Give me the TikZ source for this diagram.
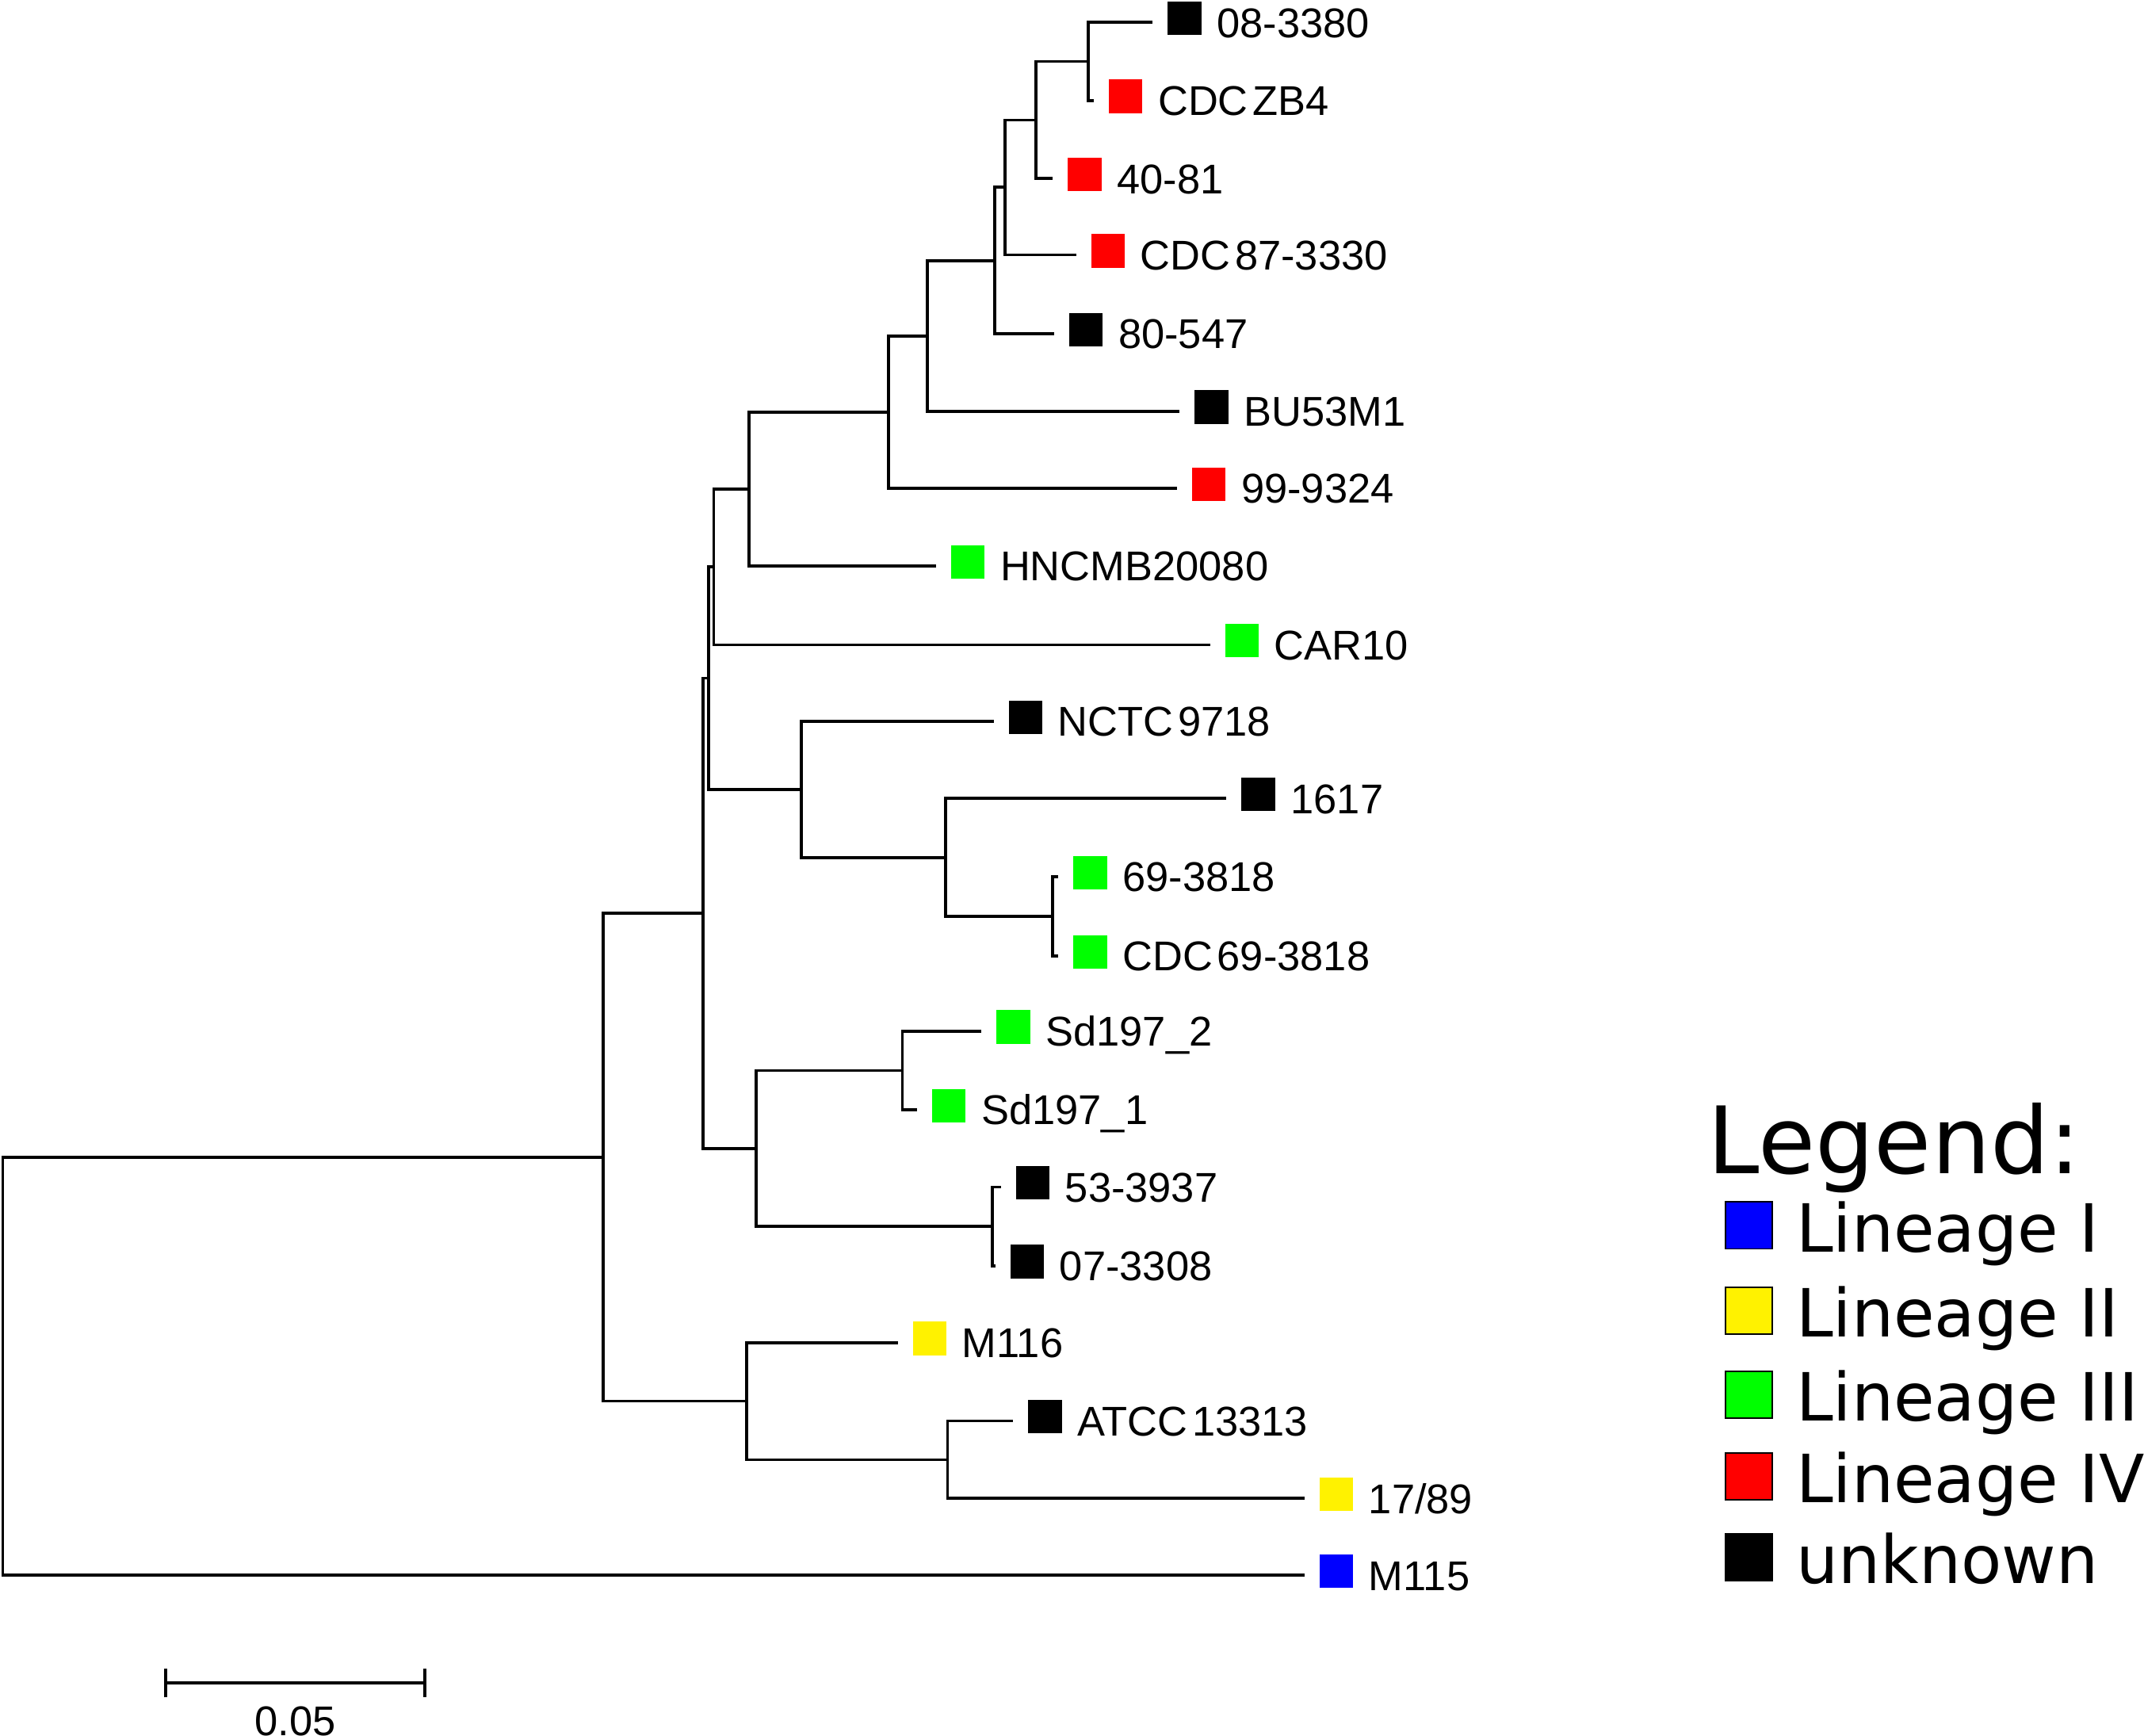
\documentclass[tikz,border=0pt]{standalone}
\usepackage{fontspec}
\setmainfont{Liberation Sans}[WordSpace=0.4]
\newfontfamily\legendfont{DejaVu Sans}
\usepackage{tikz}
\usetikzlibrary{positioning, arrows.meta}

\begin{document}
\begin{tikzpicture}[x=0.5pt, y=-0.5pt, every node/.style={font=\fontsize{15.2}{16}\selectfont}]
    % Define styles
    \tikzstyle{branch} = [line width=1.1pt]
    \tikzstyle{leaf} = [rectangle, minimum size=12.25pt, inner sep=0pt, outer sep=0pt]
    \tikzstyle{tiplabel} = [inner sep=0pt, outer sep=0pt, text height=10.9pt, text depth=0pt]
    \tikzstyle{legbox} = [rectangle, draw=black, line width=0.5pt, minimum size=17.2pt, inner sep=0pt]
    \tikzstyle{legtext} = [font=\legendfont\fontsize{24.3}{28}\selectfont, inner sep=0pt, anchor=base west]

    \useasboundingbox (0,0) rectangle (1568,1269);

    % Internal nodes
    \coordinate (root) at (2,999.1);
    \coordinate (n_a) at (441,846.2);
    \coordinate (n_b) at (514,667.8);
    \coordinate (n_c) at (518,495.9);
    \coordinate (n_d) at (522,414.5);
    \coordinate (n_e) at (548,357.5);
    \coordinate (n_f) at (650,301.3);
    \coordinate (n_g) at (678,245.6);
    \coordinate (n_h) at (727.5,190.5);
    \coordinate (n_i) at (735,137);
    \coordinate (n_j) at (757.5,87.8);
    \coordinate (n_k) at (796,44.9);
    \coordinate (n_nctc) at (586,577.2);
    \coordinate (n_l) at (691.4,627);
    \coordinate (n_l2) at (769.6,670);
    \coordinate (n_p) at (553,839.8);
    \coordinate (n_q) at (660,782.8);
    \coordinate (n_s) at (725.6,896.8);
    \coordinate (n_m) at (546,1024.6);
    \coordinate (n_t) at (693,1067.4);

    % Tips
    \coordinate (e1) at (843,16.4);
    \node[leaf, fill=black, right=5.5pt of e1, yshift=1.5pt] (s1) {};
    \node[tiplabel, right=23.5pt of e1] (t1) {08-3380};
    \coordinate (e2) at (800,73.4);
    \node[leaf, fill=red, right=5.5pt of e2, yshift=1.5pt] (s2) {};
    \node[tiplabel, right=23.5pt of e2] (t2) {CDC ZB4};
    \coordinate (e3) at (770,130.6);
    \node[leaf, fill=red, right=5.5pt of e3, yshift=1.5pt] (s3) {};
    \node[tiplabel, right=23.5pt of e3] (t3) {40-81};
    \coordinate (e4) at (787,186.4);
    \node[leaf, fill=red, right=5.5pt of e4, yshift=1.5pt] (s4) {};
    \node[tiplabel, right=23.5pt of e4] (t4) {CDC 87-3330};
    \coordinate (e5) at (771,244);
    \node[leaf, fill=black, right=5.5pt of e5, yshift=1.5pt] (s5) {};
    \node[tiplabel, right=23.5pt of e5] (t5) {80-547};
    \coordinate (e6) at (862.8,300.7);
    \node[leaf, fill=black, right=5.5pt of e6, yshift=1.5pt] (s6) {};
    \node[tiplabel, right=23.5pt of e6] (t6) {BU53M1};
    \coordinate (e7) at (860.8,357);
    \node[leaf, fill=red, right=5.5pt of e7, yshift=1.5pt] (s7) {};
    \node[tiplabel, right=23.5pt of e7] (t7) {99-9324};
    \coordinate (e8) at (684.6,413.8);
    \node[leaf, fill=green, right=5.5pt of e8, yshift=1.5pt] (s8) {};
    \node[tiplabel, right=23.5pt of e8] (t8) {HNCMB20080};
    \coordinate (e9) at (885,471.5);
    \node[leaf, fill=green, right=5.5pt of e9, yshift=1.5pt] (s9) {};
    \node[tiplabel, right=23.5pt of e9] (t9) {CAR10};
    \coordinate (e10) at (726.7,527.5);
    \node[leaf, fill=black, right=5.5pt of e10, yshift=1.5pt] (s10) {};
    \node[tiplabel, right=23.5pt of e10] (t10) {NCTC 9718};
    \coordinate (e11) at (897,583.9);
    \node[leaf, fill=black, right=5.5pt of e11, yshift=1.5pt] (s11) {};
    \node[tiplabel, right=23.5pt of e11] (t11) {1617};
    \coordinate (e12) at (774,641);
    \node[leaf, fill=green, right=5.5pt of e12, yshift=1.5pt] (s12) {};
    \node[tiplabel, right=23.5pt of e12] (t12) {69-3818};
    \coordinate (e13) at (774,699);
    \node[leaf, fill=green, right=5.5pt of e13, yshift=1.5pt] (s13) {};
    \node[tiplabel, right=23.5pt of e13] (t13) {CDC 69-3818};
    \coordinate (e14) at (717.8,754);
    \node[leaf, fill=green, right=5.5pt of e14, yshift=1.5pt] (s14) {};
    \node[tiplabel, right=23.5pt of e14] (t14) {Sd197\_2};
    \coordinate (e15) at (670.8,811.5);
    \node[leaf, fill=green, right=5.5pt of e15, yshift=1.5pt] (s15) {};
    \node[tiplabel, right=23.5pt of e15] (t15) {Sd197\_1};
    \coordinate (e16) at (732,868);
    \node[leaf, fill=black, right=5.5pt of e16, yshift=1.5pt] (s16) {};
    \node[tiplabel, right=23.5pt of e16] (t16) {53-3937};
    \coordinate (e17) at (728,925.5);
    \node[leaf, fill=black, right=5.5pt of e17, yshift=1.5pt] (s17) {};
    \node[tiplabel, right=23.5pt of e17] (t17) {07-3308};
    \coordinate (e18) at (656.7,981.8);
    \node[leaf, fill=yellow, right=5.5pt of e18, yshift=1.5pt] (s18) {};
    \node[tiplabel, right=23.5pt of e18] (t18) {M116};
    \coordinate (e19) at (741,1039);
    \node[leaf, fill=black, right=5.5pt of e19, yshift=1.5pt] (s19) {};
    \node[tiplabel, right=23.5pt of e19] (t19) {ATCC 13313};
    \coordinate (e20) at (954,1095.7);
    \node[leaf, fill=yellow, right=5.5pt of e20, yshift=1.5pt] (s20) {};
    \node[tiplabel, right=23.5pt of e20] (t20) {17/89};
    \coordinate (e21) at (954,1152);
    \node[leaf, fill=blue, right=5.5pt of e21, yshift=1.5pt] (s21) {};
    \node[tiplabel, right=23.5pt of e21] (t21) {M115};

    % Branches
    \draw [branch] (root) |- (n_a);
    \draw [branch] (root) |- (e21);
    \draw [branch] (n_a) |- (n_b);
    \draw [branch] (n_a) |- (n_m);
    \draw [branch] (n_b) |- (n_c);
    \draw [branch] (n_b) |- (n_p);
    \draw [branch] (n_c) |- (n_d);
    \draw [branch] (n_c) |- (n_nctc);
    \draw [branch] (n_d) |- (n_e);
    \draw [branch] (n_d) |- (e9);
    \draw [branch] (n_e) |- (n_f);
    \draw [branch] (n_e) |- (e8);
    \draw [branch] (n_f) |- (n_g);
    \draw [branch] (n_f) |- (e7);
    \draw [branch] (n_g) |- (n_h);
    \draw [branch] (n_g) |- (e6);
    \draw [branch] (n_h) |- (n_i);
    \draw [branch] (n_h) |- (e5);
    \draw [branch] (n_i) |- (n_j);
    \draw [branch] (n_i) |- (e4);
    \draw [branch] (n_j) |- (n_k);
    \draw [branch] (n_j) |- (e3);
    \draw [branch] (n_k) |- (e1);
    \draw [branch] (n_k) |- (e2);
    \draw [branch] (n_nctc) |- (e10);
    \draw [branch] (n_nctc) |- (n_l);
    \draw [branch] (n_l) |- (e11);
    \draw [branch] (n_l) |- (n_l2);
    \draw [branch] (n_l2) |- (e12);
    \draw [branch] (n_l2) |- (e13);
    \draw [branch] (n_p) |- (n_q);
    \draw [branch] (n_p) |- (n_s);
    \draw [branch] (n_q) |- (e14);
    \draw [branch] (n_q) |- (e15);
    \draw [branch] (n_s) |- (e16);
    \draw [branch] (n_s) |- (e17);
    \draw [branch] (n_m) |- (e18);
    \draw [branch] (n_m) |- (n_t);
    \draw [branch] (n_t) |- (e19);
    \draw [branch] (n_t) |- (e20);

    % Scale bar
    \coordinate (bar_l) at (120.1,1230.7);
    \coordinate (bar_r) at (311.9,1230.7);
    \draw [branch, {Bar[width=10.5pt]}-{Bar[width=10.5pt]}] (bar_l) -- (bar_r);
    \node[anchor=base, inner sep=0pt] (barlabel) at (216,1269) {0.05};

    % Legend
    \node[font=\legendfont\fontsize{34}{40}\selectfont, inner sep=0pt, anchor=base west] (legtitle) at (1248.7,858) {Legend:};
    \node[legbox, fill=blue] (lb1) at (1279,896) {};
    \node[legtext] (lt1) at (1313.2,915.3) {Lineage I};
    \node[legbox, fill=yellow] (lb2) at (1279,958.5) {};
    \node[legtext] (lt2) at (1313.2,977.8) {Lineage II};
    \node[legbox, fill=green] (lb3) at (1279,1020) {};
    \node[legtext] (lt3) at (1313.2,1039.3) {Lineage III};
    \node[legbox, fill=red] (lb4) at (1279,1079.6) {};
    \node[legtext] (lt4) at (1313.2,1098.9) {Lineage IV};
    \node[legbox, fill=black] (lb5) at (1279,1138.6) {};
    \node[legtext] (lt5) at (1313.2,1157.9) {unknown};
\end{tikzpicture}
\end{document}
